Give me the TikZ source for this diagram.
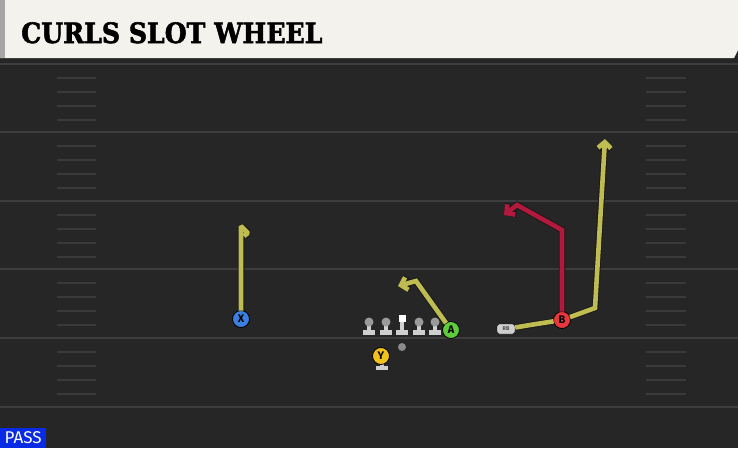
\documentclass[tikz,border=0pt]{standalone}
\usepackage{fontspec}
\setmainfont{Fira Sans}
\newfontfamily\titlefont[BoldFeatures={FakeBold=2}]{DejaVu Serif}
\usetikzlibrary{arrows.meta}
\definecolor{fieldbg}{HTML}{262626}
\definecolor{yardline}{HTML}{3D3D3D}
\definecolor{hashline}{HTML}{3A3A3A}
\definecolor{banner}{HTML}{F4F2EC}
\definecolor{routeyellow}{HTML}{BFBD52}
\definecolor{routered}{HTML}{B3183D}
\definecolor{xblue}{HTML}{3B7FE0}
\definecolor{agreen}{HTML}{5DCB3A}
\definecolor{bred}{HTML}{E8383F}
\definecolor{ygold}{HTML}{F2C21C}
\definecolor{passblue}{HTML}{0A2BE6}
\definecolor{olbody}{HTML}{CFCFCF}
\definecolor{olhead}{HTML}{9A9A9A}
\begin{document}
\begin{tikzpicture}[x=1pt,y=-1pt]
        \tikzstyle{player}=[circle,draw=black,line width=0.8pt,minimum size=17pt,inner sep=0pt,outer sep=0pt,font=\bfseries\fontsize{11}{11}\selectfont]
        \tikzstyle{olhead}=[circle,fill=olhead,minimum size=9pt,inner sep=0pt]
        \tikzstyle{olbody}=[fill=olbody]
        \tikzstyle{hash}=[draw=hashline,line width=2pt]
        \tikzstyle{yard}=[draw=yardline,line width=2pt]
        \tikzstyle{yroute}=[preaction={draw=black!90,line width=6.5pt},draw=routeyellow,line width=4.6pt,line join=miter,-{Straight Barb[length=6pt,width=13pt]}]
        \tikzstyle{rroute}=[preaction={draw=black!90,line width=6.5pt},draw=routered,line width=4.6pt,line join=miter,-{Straight Barb[length=6pt,width=13pt]}]
        \tikzstyle{curl}=[preaction={draw=black!90,line width=6.5pt,line join=bevel},draw=routeyellow,line width=4.6pt,line join=bevel]
        \useasboundingbox (0,0) rectangle (738,448);
        % field
        \fill[fieldbg] (0,0) rectangle (738,448);
        \fill[black!85] (0,56) rectangle (738,63);
        \foreach \yl in {64,132,201,269,338,407} {
          \draw[yard] (0,\yl) -- (738,\yl);
        }
        \foreach \yl in {64,132,201,269,338} {
          \foreach \o in {14,28,42,56} {
            \draw[hash] (57,\yl+\o) -- (96,\yl+\o);
            \draw[hash] (646,\yl+\o) -- (686,\yl+\o);
          }
        }
        % banner
        \fill[banner] (0,0) -- (738,0) -- (738,50) -- (734,58) -- (0,58) -- cycle;
        \fill[black!35] (0,0) rectangle (5,58);
        \node[anchor=base west,inner sep=0pt,font=\titlefont\bfseries\fontsize{28}{28}\selectfont] (title) at (21,43) {\scalebox{0.9}[1]{CURLS SLOT WHEEL}};
        \node[anchor=south west,fill=passblue,text=white,inner sep=0pt,minimum width=46pt,minimum height=20pt,font=\fontsize{17}{17}\selectfont] (pass) at (0,448) {PASS};
        % line
        \foreach \lx [count=\i] in {369,386,419,435} {
          \fill[olbody] (\lx-6,330) rectangle (\lx+6,335);
          \fill[olbody] (\lx-2,322) rectangle (\lx+2,331);
          \node[olhead] (ol\i) at (\lx,322) {};
        }
        \fill[olbody] (396,330) rectangle (408,335);
        \fill[olbody] (400,320) rectangle (404,331);
        \node[fill=white,minimum size=7pt,inner sep=0pt] (c) at (402,318) {};
        \node[circle,fill=olhead!90!black,minimum size=8pt,inner sep=0pt] (qb) at (402,347) {};
        \fill[olbody] (376,366) rectangle (388,370);
        \fill[olbody] (380,362) rectangle (384,367);
        % players
        \node[player,fill=xblue] (x) at (241,319) {X};
        \node[player,fill=agreen] (a) at (451,330) {A};
        \node[player,fill=bred] (b) at (562,320) {B};
        \node[player,fill=ygold] (y) at (381,356) {Y};
        \node[draw=black,fill=olbody,rounded corners=2.5pt,minimum width=18pt,minimum height=10pt,inner sep=0pt,font=\bfseries\fontsize{5.5}{5.5}\selectfont,text=black!70] (rb) at (506,329) {RB};
        % routes
        \coordinate (xr1) at (241,226);
        \coordinate (xr2) at (248,233);
        \coordinate (xr3) at (244,236);
        \coordinate (ar1) at (416,281);
        \coordinate (ar2) at (398,286);
        \coordinate (br1) at (562,230);
        \coordinate (br2) at (517,205);
        \coordinate (br3) at (504,215);
        \coordinate (rr1) at (530,325);
        \coordinate (rr2) at (595,308);
        \coordinate (rr3) at (605,139);
        \draw[curl] (x) -- (xr1) -- (xr2) -- (xr3);
        \draw[yroute] (a) -- (ar1) -- (ar2);
        \draw[rroute] (b) -- (br1) -- (br2) -- (br3);
        \draw[yroute,-] (rb) -- (rr1) -- (b);
        \draw[yroute] (b) -- (rr2) -- (rr3);
\end{tikzpicture}
\end{document}
